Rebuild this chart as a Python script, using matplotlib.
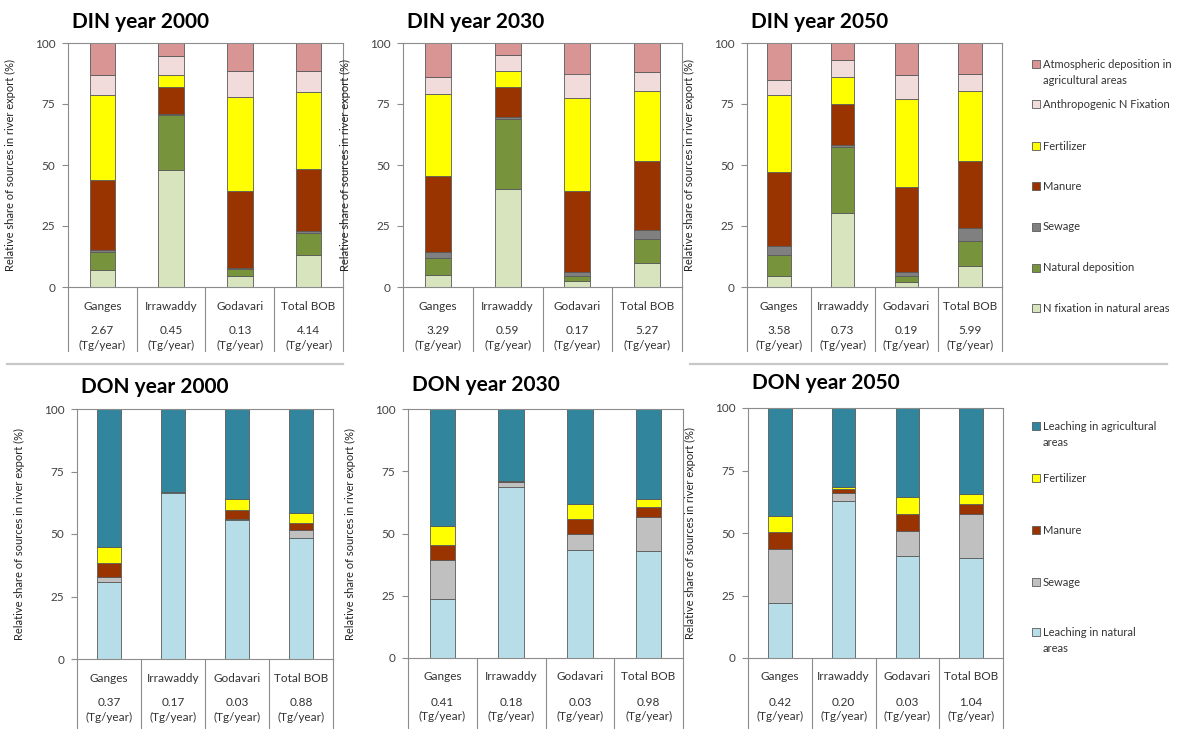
import numpy as np
import matplotlib
matplotlib.use("Agg")
import matplotlib.pyplot as plt
from matplotlib.patches import Rectangle
from matplotlib.transforms import offset_copy

plt.rcParams['font.family'] = ['Lato', 'DejaVu Sans']

rivers = ["Ganges", "Irrawaddy", "Godavari", "Total BOB"]

# DIN sources, bottom -> top
din_sources = ["N fixation in natural areas", "Natural deposition", "Sewage", "Manure",
               "Fertilizer", "Anthropogenic N Fixation",
               "Atmospheric deposition in\nagricultural areas"]
din_colors = ["#d7e4bd", "#77933c", "#808080", "#993300", "#ffff00", "#f2dcdb", "#d99594"]

din_2000 = [[7, 48, 4.5, 13],
            [7.5, 22.5, 3, 9],
            [0.7, 0.3, 0.3, 1],
            [28.5, 11.2, 31.7, 25.5],
            [35, 5, 38.5, 31.5],
            [8, 7.5, 10.5, 8.5],
            [13.3, 5.5, 11.5, 11.5]]
din_2030 = [[5, 40, 2.5, 10],
            [7, 29, 2, 9.5],
            [2.5, 0.8, 1.5, 4],
            [31, 12.2, 33.5, 28],
            [33.5, 6.5, 38, 29],
            [7, 6.5, 10, 7.5],
            [14, 5, 12.5, 12]]
din_2050 = [[4.5, 30.5, 2, 8.5],
            [8.5, 27, 2.5, 10.5],
            [4, 0.8, 1.5, 5],
            [30, 16.7, 35, 27.5],
            [31.5, 11, 36, 29],
            [6.5, 7, 10, 7],
            [15, 7, 13, 12.5]]
din_tot_2000 = ["2.67", "0.45", "0.13", "4.14"]
din_tot_2030 = ["3.29", "0.59", "0.17", "5.27"]
din_tot_2050 = ["3.58", "0.73", "0.19", "5.99"]

# DON sources, bottom -> top
don_sources = ["Leaching in natural\nareas", "Sewage", "Manure", "Fertilizer",
               "Leaching in agricultural\nareas"]
don_colors = ["#b7dee8", "#c0c0c0", "#993300", "#ffff00", "#31859c"]

don_2000 = [[31, 66.5, 55.5, 48.5],
            [2, 0.2, 0.5, 3],
            [5.5, 0.2, 3.5, 3],
            [6.5, 0.1, 4.5, 4],
            [55, 33, 36, 41.5]]
don_2030 = [[23.5, 68.5, 43.5, 43],
            [16, 2, 6.5, 13.5],
            [6, 0.5, 6, 4],
            [7.5, 0.2, 6, 3.5],
            [47, 28.8, 38, 36]]
don_2050 = [[22, 63, 41, 40],
            [21.5, 3, 10, 17.5],
            [7, 1.5, 6.5, 4],
            [6.5, 1, 7, 4],
            [43, 31.5, 35.5, 34.5]]
don_tot_2000 = ["0.37", "0.17", "0.03", "0.88"]
don_tot_2030 = ["0.41", "0.18", "0.03", "0.98"]
don_tot_2050 = ["0.42", "0.20", "0.03", "1.04"]

W, H = 1180, 729
fig = plt.figure(figsize=(W / 100, H / 100), dpi=100)
grey = "#8c8c8c"


def panel(box, title, title_y, data, colors, totals, table_depth):
    # box = (left, right, top, bottom) in pixels
    l, r, t, b = box
    w, h = r - l, b - t
    ax = fig.add_axes([l / W, (H - b) / H, w / W, h / H])
    x = np.arange(len(rivers))
    bottom = np.zeros(len(rivers))
    for vals, c in zip(data, colors):
        ax.bar(x, vals, 0.37, bottom=bottom, color=c, edgecolor="#5a5a5a", linewidth=0.6, zorder=2)
        bottom += np.array(vals)
    ax.set_xlim(-0.5, 3.5)
    ax.set_ylim(0, 100)
    ax.set_yticks([0, 25, 50, 75, 100])
    ax.set_xticks([])
    ax.tick_params(axis="y", direction="out", length=4, width=0.8, color=grey,
                   labelsize=8.5, labelcolor="#404040", pad=5)
    for s in ax.spines.values():
        s.set_color(grey)
        s.set_linewidth(0.8)
    ax.set_ylabel("Relative share of sources in river export (%)", fontsize=8, color="#222222")
    ax.yaxis.set_label_coords(-52 / w, 0.5)

    # category table under the axis
    for i in range(5):
        ax.plot([i / 4, i / 4], [0, -table_depth / h], transform=ax.transAxes,
                color=grey, lw=0.8, clip_on=False)
    for i, name in enumerate(rivers):
        xc = (i + 0.5) / 4
        ax.text(xc, 0, name, transform=offset_copy(ax.transAxes, fig, y=-19, units="dots"),
                ha="center", va="center", fontsize=8.5, color="#333333")
        ax.text(xc, 0, totals[i], transform=offset_copy(ax.transAxes, fig, y=-44, units="dots"),
                ha="center", va="center", fontsize=8.5, color="#333333")
        ax.text(xc, 0, "(Tg/year)", transform=offset_copy(ax.transAxes, fig, y=-58, units="dots"),
                ha="center", va="center", fontsize=8.5, color="#333333")

    fig.text((l + 4) / W, 1 - title_y / H, title, ha="left", va="center",
             fontsize=15, fontweight="bold", color="black")
    return ax


panel((68, 343, 43, 287), "DIN year 2000", 22, din_2000, din_colors, din_tot_2000, 64)
panel((403, 682, 43, 287), "DIN year 2030", 22, din_2030, din_colors, din_tot_2030, 64)
panel((747, 1002, 43, 287), "DIN year 2050", 22, din_2050, din_colors, din_tot_2050, 64)
panel((77, 333, 409, 659), "DON year 2000", 387, don_2000, don_colors, don_tot_2000, 72)
panel((408, 683, 409, 658), "DON year 2030", 385, don_2030, don_colors, don_tot_2030, 72)
panel((748, 1003, 408, 658), "DON year 2050", 383, don_2050, don_colors, don_tot_2050, 72)

# separators between the two rows
fig.add_artist(plt.Line2D([7 / W, 343 / W], [1 - 364 / H, 1 - 364 / H], color="#c8c8c8", lw=1.6))
fig.add_artist(plt.Line2D([690 / W, 1167 / W], [1 - 364 / H, 1 - 364 / H], color="#c8c8c8", lw=1.6))


def legend(labels, colors, ys):
    for lab, c, y in zip(labels, colors, ys):
        fig.add_artist(Rectangle((1032 / W, 1 - (y + 4) / H), 8 / W, 8 / H,
                                 facecolor=c, edgecolor="#5a5a5a", lw=0.6))
        for k, line in enumerate(lab.split("\n")):
            fig.text(1043 / W, 1 - (y + k * 16) / H, line, ha="left", va="center",
                     fontsize=8, color="#333333")


legend(din_sources[::-1], din_colors[::-1], [64, 104, 146, 186, 227, 268, 308])
legend(don_sources[::-1], don_colors[::-1], [426, 478, 530, 582, 632])

fig.savefig("out.png", dpi=100)
